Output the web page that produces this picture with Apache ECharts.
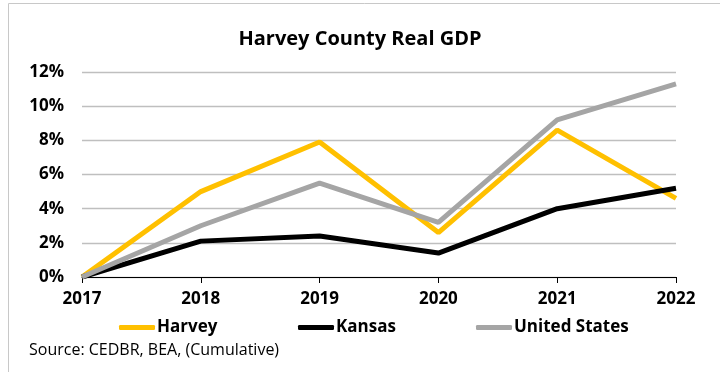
<!DOCTYPE html>
<html>
<head>
<meta charset="utf-8">
<script src="https://cdn.jsdelivr.net/npm/echarts@6/dist/echarts.min.js"></script>
<style>
  html, body { margin: 0; padding: 0; background: #fff; }
  #chart { width: 720px; height: 372px; }
</style>
</head>
<body>
<div id="chart"></div>
<script>
const years = ['2017', '2018', '2019', '2020', '2021', '2022'];
const harvey = [0, 5.0, 7.9, 2.6, 8.6, 4.6];
const kansas = [0, 2.1, 2.4, 1.4, 4.0, 5.2];
const unitedStates = [0, 3.0, 5.5, 3.2, 9.2, 11.3];
const seriesNames = ['Harvey', 'Kansas', 'United States'];

const FONT = '"Open Sans", "Noto Sans", sans-serif';
const colors = ['#FFC000', '#000000', '#A5A5A5'];

const chart = echarts.init(document.getElementById('chart'), null, { renderer: 'canvas' });

function legendFor(i, left) {
  return {
    data: [seriesNames[i]],
    left: left,
    top: 319,
    icon: 'roundRect',
    itemWidth: 36,
    itemHeight: 5,
    itemGap: 0,
    padding: 0,
    textStyle: { fontFamily: FONT, fontSize: 17, fontWeight: 'bold', color: '#000', padding: [0, 0, 0, -3] }
  };
}

chart.setOption({
  animation: false,
  color: colors,
  title: {
    text: 'Harvey County Real GDP',
    left: 'center',
    top: 24,
    textStyle: { fontFamily: FONT, fontSize: 20, fontWeight: 'bold', color: '#000' }
  },
  legend: [legendFor(0, 119), legendFor(1, 298), legendFor(2, 476)],
  graphic: [
    {
      type: 'rect',
      shape: { x: 8.5, y: 3.5, width: 720, height: 400 },
      style: { fill: 'none', stroke: '#c8c8c8', lineWidth: 1 },
      silent: true
    },
    {
      type: 'text',
      left: 29,
      top: 342,
      style: {
        text: 'Source: CEDBR, BEA, (Cumulative)',
        font: '16px ' + FONT,
        fill: '#000'
      }
    }
  ],
  grid: { left: 82, right: 44, top: 72, bottom: 95, containLabel: false },
  xAxis: {
    type: 'category',
    data: years,
    boundaryGap: false,
    axisLine: { lineStyle: { color: '#000', width: 1 } },
    axisTick: { show: true, length: 6, lineStyle: { color: '#000' } },
    axisLabel: { fontFamily: FONT, fontSize: 17, fontWeight: 'bold', color: '#000', margin: 14 }
  },
  yAxis: {
    type: 'value',
    min: 0,
    max: 12,
    interval: 2,
    axisLine: { show: false },
    axisTick: { show: false },
    splitLine: { lineStyle: { color: '#bfbfbf', width: 1.3 } },
    axisLabel: { formatter: '{value}%', fontFamily: FONT, fontSize: 17, fontWeight: 'bold', color: '#000', margin: 18 }
  },
  series: [
    { name: seriesNames[0], type: 'line', data: harvey, symbol: 'none', lineStyle: { width: 5, color: colors[0] } },
    { name: seriesNames[1], type: 'line', data: kansas, symbol: 'none', lineStyle: { width: 5, color: colors[1] } },
    { name: seriesNames[2], type: 'line', data: unitedStates, symbol: 'none', lineStyle: { width: 5, color: colors[2] } }
  ]
});
</script>
</body>
</html>
